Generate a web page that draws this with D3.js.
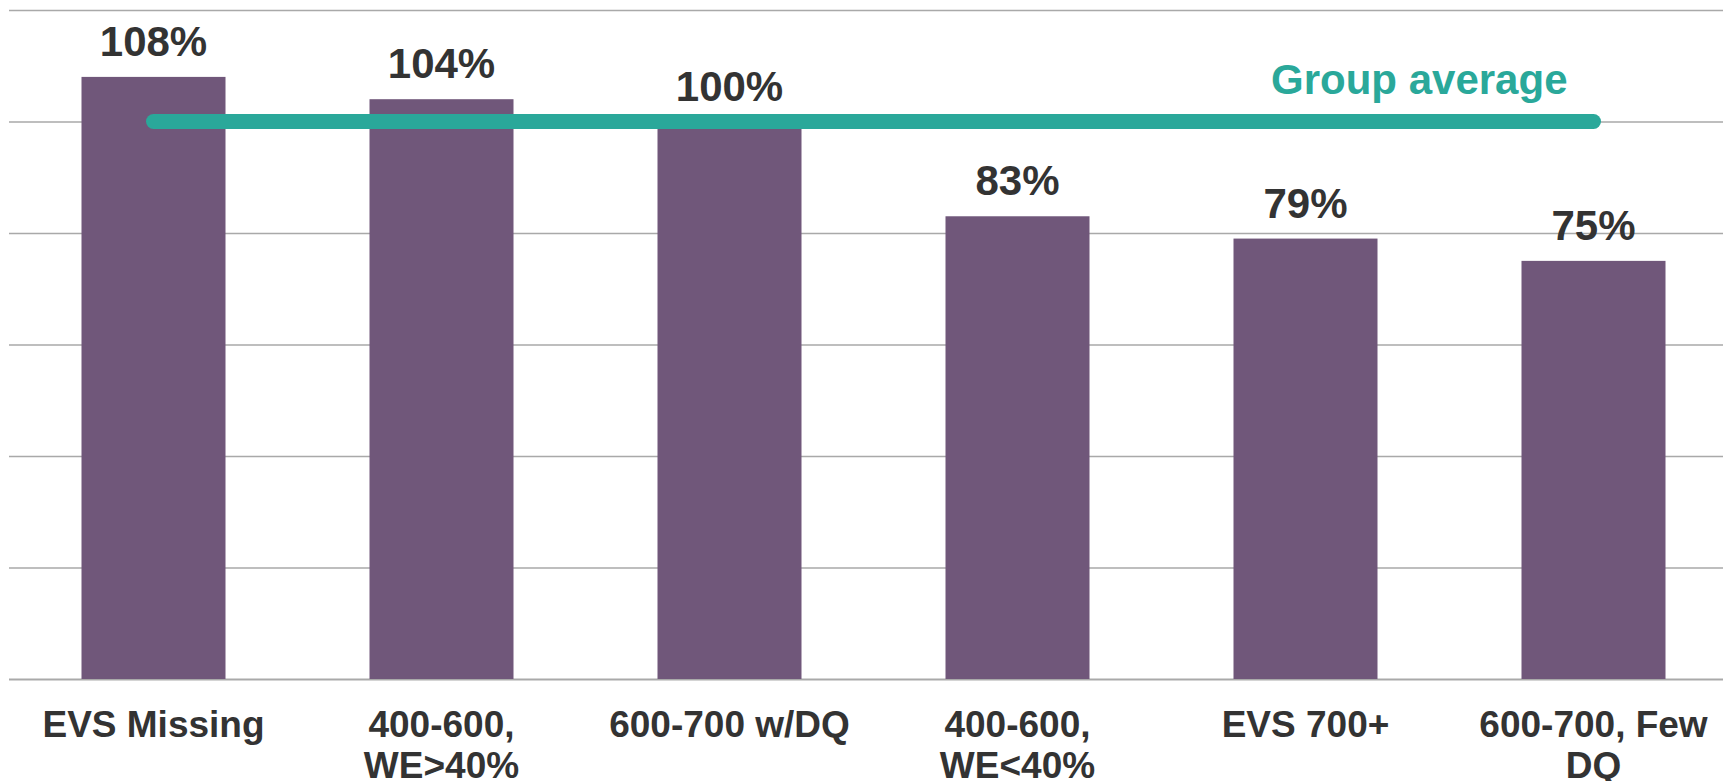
<!DOCTYPE html>
<html>
<head>
<meta charset="utf-8">
<script src="https://cdn.jsdelivr.net/npm/d3@7.9.0/dist/d3.min.js"></script>
<style>
  html, body { margin: 0; padding: 0; background: #fff; overflow: hidden; }
  svg { display: block; font-family: "Liberation Sans", Arial, sans-serif; }
</style>
</head>
<body>
<svg id="chart" width="1723" height="781"></svg>
<script>
const categories = ['EVS Missing', '400-600, WE>40%', '600-700 w/DQ', '400-600, WE<40%', 'EVS 700+', '600-700, Few DQ'];
const values = [1.08, 1.04, 1.00, 0.83, 0.79, 0.75];
const groupAverage = 1.00;
const yTicks = [0, 0.2, 0.4, 0.6, 0.8, 1.0, 1.2];

const svg = d3.select('#chart');

// scales
const x = d3.scaleBand()
  .domain(categories)
  .range([9.5, 1737.5])
  .paddingInner(0.5)
  .paddingOuter(0.25);

const y = d3.scaleLinear().domain([0, 1.2]).range([679, 10]);

// gridlines (axis with long ticks, no labels)
const grid = svg.append('g')
  .attr('transform', 'translate(9,0)')
  .call(d3.axisRight(y).tickValues(yTicks).tickSize(1723).tickFormat(''));
grid.select('.domain').remove();
grid.selectAll('line')
  .attr('stroke', '#a9a9a9')
  .attr('stroke-width', (d) => d === 0 ? 2 : 1.5);

// bars
svg.append('g')
  .selectAll('rect')
  .data(values)
  .join('rect')
  .attr('x', (d, i) => x(categories[i]))
  .attr('y', (d) => y(d))
  .attr('width', x.bandwidth())
  .attr('height', (d) => y(0) - y(d))
  .attr('fill', '#70577a');

// value labels
svg.append('g')
  .selectAll('text')
  .data(values)
  .join('text')
  .attr('x', (d, i) => x(categories[i]) + x.bandwidth() / 2)
  .attr('y', (d) => y(d) - 21)
  .attr('text-anchor', 'middle')
  .attr('font-size', 42)
  .attr('font-weight', 'bold')
  .attr('fill', '#333333')
  .text((d) => Math.round(d * 100) + '%');

// group average line
const first = categories[0];
const last = categories[categories.length - 1];
svg.append('line')
  .attr('x1', x(first) + x.bandwidth() / 2)
  .attr('x2', x(last) + x.bandwidth() / 2)
  .attr('y1', y(groupAverage))
  .attr('y2', y(groupAverage))
  .attr('stroke', '#2aa89a')
  .attr('stroke-width', 15)
  .attr('stroke-linecap', 'round');

svg.append('text')
  .attr('x', x(last) + x.bandwidth() / 2 - 26)
  .attr('y', y(groupAverage) - 28)
  .attr('text-anchor', 'end')
  .attr('font-size', 42)
  .attr('font-weight', 'bold')
  .attr('fill', '#2aa89a')
  .text('Group average');

// category labels, wrapped to fit
const labels = svg.append('g')
  .selectAll('text')
  .data(categories)
  .join('text')
  .attr('x', (d) => x(d) + x.bandwidth() / 2)
  .attr('y', y(0) + 58)
  .attr('text-anchor', 'middle')
  .attr('font-size', 37)
  .attr('font-weight', 'bold')
  .attr('fill', '#333333');

labels.each(function (d) {
  const t = d3.select(this);
  const words = d.split(' ');
  let line = [];
  let lineNo = 0;
  let tspan = t.append('tspan').attr('x', t.attr('x')).attr('dy', 0);
  words.forEach((w) => {
    line.push(w);
    tspan.text(line.join(' '));
    if (tspan.node().getComputedTextLength() > 270 && line.length > 1) {
      line.pop();
      tspan.text(line.join(' '));
      line = [w];
      lineNo++;
      tspan = t.append('tspan').attr('x', t.attr('x')).attr('dy', 41).text(w);
    }
  });
});
</script>
</body>
</html>
